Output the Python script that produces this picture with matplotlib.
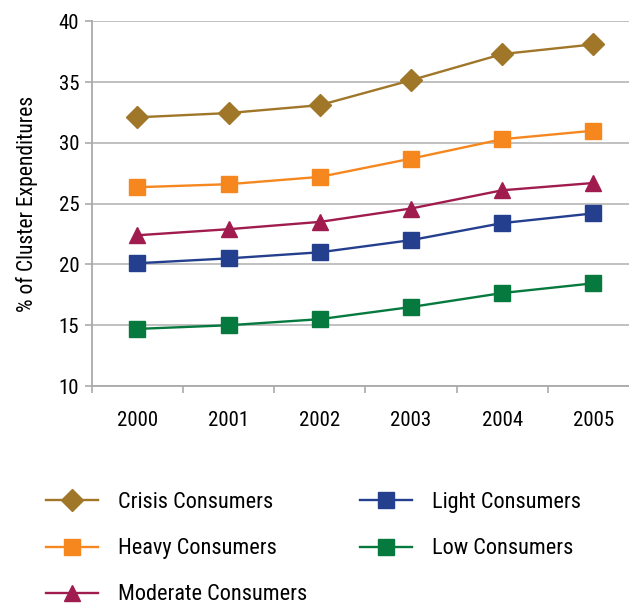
import matplotlib
matplotlib.use('Agg')
from matplotlib import pyplot as plt
from matplotlib import font_manager

# data
years = ['2000', '2001', '2002', '2003', '2004', '2005']
crisis = [32.1, 32.45, 33.1, 35.15, 37.3, 38.1]
heavy = [26.35, 26.6, 27.2, 28.7, 30.3, 31.0]
moderate = [22.4, 22.9, 23.5, 24.6, 26.1, 26.7]
light = [20.1, 20.5, 21.0, 22.0, 23.4, 24.2]
low = [14.7, 15.0, 15.5, 16.5, 17.65, 18.45]

# a condensed face, like the original
names = set(f.name for f in font_manager.fontManager.ttflist)
fam = 'DejaVu Sans'
for cand in ['Roboto Condensed', 'Liberation Sans Narrow', 'Archivo Narrow', 'Barlow Semi Condensed']:
    if cand in names:
        fam = cand
        break
plt.rcParams['font.family'] = [fam, 'DejaVu Sans']

fig = plt.figure(figsize=(6.29, 6.07), dpi=100)
ax = fig.add_axes([0.146, 0.364, 0.87, 0.601])

x = list(range(len(years)))
series = [
    ('Crisis Consumers', crisis, '#A07629', 'D', 11),
    ('Heavy Consumers', heavy, '#F6871F', 's', 11.5),
    ('Moderate Consumers', moderate, '#A11C4E', '^', 12),
    ('Light Consumers', light, '#253F8F', 's', 11.5),
    ('Low Consumers', low, '#067A3E', 's', 11.5),
]
for name, vals, col, mk, ms in series:
    ax.plot(x, vals, color=col, lw=1.7, marker=mk, markersize=ms,
            markeredgecolor=col, label=name, zorder=3)

ax.set_ylim(10, 40)
ax.set_yticks(range(10, 41, 5))
ax.set_xlim(-0.5, 5.5)
ax.set_xticks(x)
ax.set_xticklabels(years)
ax.set_xticks([i - 0.5 for i in range(6)], minor=True)
ax.yaxis.grid(True, color='#BBBBBB', lw=1.3)
ax.set_axisbelow(True)
for s in ['top', 'right']:
    ax.spines[s].set_visible(False)
for s in ['left', 'bottom']:
    ax.spines[s].set_color('#AAAAAA')
    ax.spines[s].set_linewidth(1.3)
ax.tick_params(axis='x', which='major', length=0, pad=18, labelsize=15)
ax.tick_params(axis='x', which='minor', length=5, color='#AAAAAA', width=1.2)
ax.tick_params(axis='y', length=5, color='#AAAAAA', width=1.2, labelsize=15, pad=4)
ax.set_ylabel('% of Cluster Expenditures', fontsize=15.5, labelpad=15)

fig.legend(loc='upper left', bbox_to_anchor=(0.073, 0.189), ncol=2, frameon=False,
           borderpad=0, borderaxespad=0,
           fontsize=16, handlelength=2.35, handletextpad=0.9, columnspacing=2.35,
           labelspacing=1.13)

plt.savefig('out.png', dpi=100)
